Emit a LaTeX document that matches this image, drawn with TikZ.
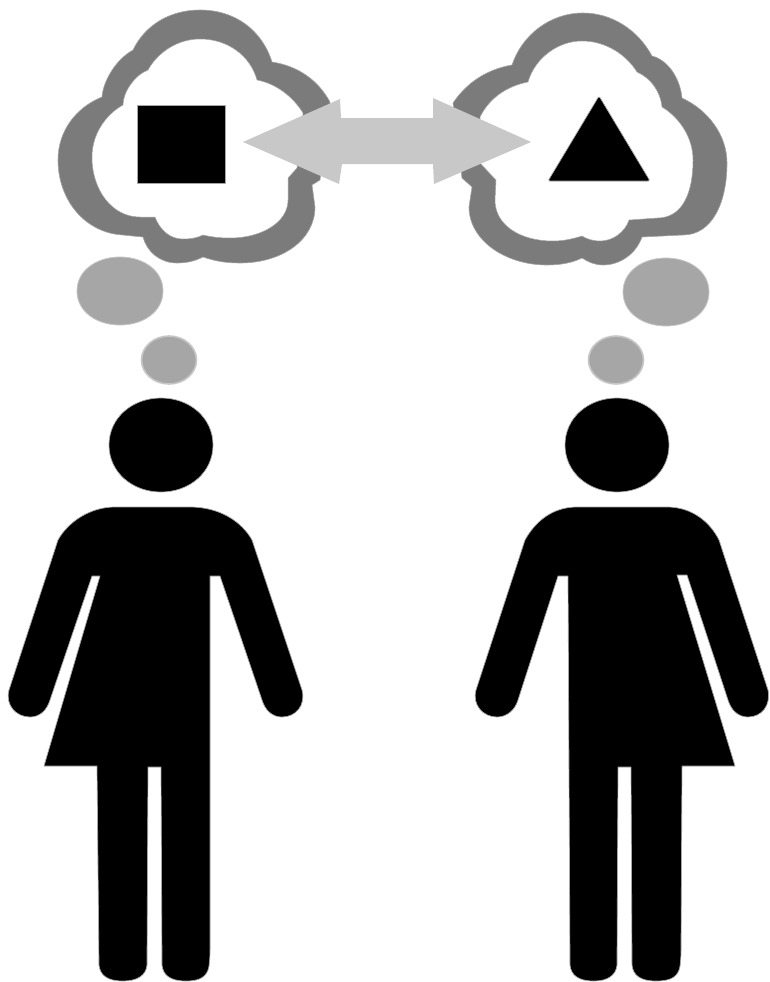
\documentclass[tikz,border=0pt]{standalone}
\tikzset{
  figure/.style={fill=black,draw=black!35,line width=0.7pt,line join=round},
  ring/.style={fill=ringgray,draw=black!35,line width=0.6pt},
  hole/.style={fill=white,draw=black!35,line width=0.5pt},
  bubble/.style={fill=bubblegray,draw=black!22,line width=0.8pt},
  bubblesmall/.style={fill=bubblegray,draw=black!22,line width=1.6pt},
  swap/.style={fill=arrowgray,draw=none},
}
\definecolor{ringgray}{HTML}{7B7B7B}
\definecolor{bubblegray}{HTML}{A6A6A6}
\definecolor{arrowgray}{HTML}{C8C8C8}
\begin{document}
\begin{tikzpicture}[x=1pt,y=-1pt]
\useasboundingbox (0,0) rectangle (769,982);
% left cloud
\path[ring] (133,50) .. controls (145,25) and (170,10) .. (200,10)
 .. controls (235,10) and (262,30) .. (272,62)
 .. controls (298,66) and (318,80) .. (330,102)
 -- (320,180) -- (312,185) -- (315,207)
 .. controls (315,240) and (282,263) .. (240,263)
 .. controls (225,263) and (215,261) .. (203,257)
 .. controls (195,261) and (187,263) .. (177,263)
 .. controls (160,263) and (147,252) .. (143,237)
 -- (123,235)
 .. controls (85,233) and (58,200) .. (58,160)
 .. controls (58,130) and (77,107) .. (102,97)
 .. controls (103,82) and (115,60) .. (133,50) -- cycle;
\path[hole] (148,70) .. controls (158,52) and (178,39) .. (200,39)
 .. controls (227,39) and (250,55) .. (257,80)
 .. controls (277,84) and (293,97) .. (303,113)
 -- (297,168) -- (288,178) -- (288,200)
 .. controls (288,222) and (262,238) .. (230,238)
 .. controls (220,238) and (212,237) .. (203,235)
 .. controls (197,238) and (190,239) .. (183,239)
 .. controls (170,239) and (160,230) .. (155,217)
 -- (140,217)
 .. controls (112,217) and (92,190) .. (92,157)
 .. controls (92,135) and (105,115) .. (123,105)
 .. controls (123,92) and (135,75) .. (148,70) -- cycle;
% right cloud
\path[ring] (512,65) .. controls (522,35) and (550,13) .. (583,13)
 .. controls (612,13) and (638,30) .. (652,56)
 .. controls (668,60) and (680,78) .. (682,98)
 .. controls (708,110) and (727,135) .. (727,163)
 .. controls (727,203) and (712,235) .. (683,235)
 -- (642,237)
 .. controls (636,254) and (620,265) .. (603,265)
 .. controls (595,265) and (588,262) .. (582,258)
 .. controls (572,263) and (560,265) .. (547,265)
 .. controls (505,265) and (469,240) .. (469,207)
 -- (472,187) -- (462,178) -- (453,103)
 .. controls (467,82) and (488,69) .. (512,65) -- cycle;
\path[hole] (528,82) .. controls (535,58) and (558,41) .. (582,41)
 .. controls (604,41) and (625,53) .. (637,72)
 .. controls (650,78) and (660,90) .. (662,107)
 .. controls (680,118) and (693,138) .. (693,160)
 .. controls (693,192) and (683,218) .. (657,218)
 -- (629,220)
 .. controls (625,232) and (613,241) .. (600,241)
 .. controls (593,241) and (587,239) .. (582,236)
 .. controls (572,239) and (563,241) .. (553,241)
 .. controls (520,241) and (495,225) .. (495,200)
 -- (496,180) -- (480,163) -- (480,117)
 .. controls (490,97) and (508,86) .. (528,82) -- cycle;
% contents
\path[figure] (137,105) rectangle (225,183);
\path[figure,rounded corners=1.5pt] (599,96) -- (650,181) -- (548,181) -- cycle;
% double arrow
\path[swap] (243,142) -- (340,99) -- (341,118) -- (433,118) -- (433,98) -- (531,142)
 -- (434,184) -- (433,164) -- (342,164) -- (339,184) -- cycle;
% thought bubbles
\path[bubble] (77,291) .. controls (77,270) and (97,257) .. (120,257)
 .. controls (143,257) and (163,270) .. (163,291)
 .. controls (163,312) and (143,325) .. (120,325)
 .. controls (97,325) and (77,312) .. (77,291) -- cycle;
\path[bubble] (623,292) .. controls (623,271) and (643,258) .. (666,258)
 .. controls (689,258) and (709,271) .. (709,292)
 .. controls (709,313) and (689,326) .. (666,326)
 .. controls (643,326) and (623,313) .. (623,292) -- cycle;
\path[bubblesmall] (169,360) ellipse [x radius=27.5,y radius=24];
\path[bubblesmall] (616,360) ellipse [x radius=27.5,y radius=24];
% heads
\path[figure] (109,445) .. controls (109,418) and (132,398) .. (161,398)
 .. controls (190,398) and (213,418) .. (213,445)
 .. controls (213,472) and (190,492) .. (161,492)
 .. controls (132,492) and (109,472) .. (109,445) -- cycle;
\path[figure] (565,445) .. controls (565,418) and (588,398) .. (617,398)
 .. controls (646,398) and (669,418) .. (669,445)
 .. controls (669,472) and (646,492) .. (617,492)
 .. controls (588,492) and (565,472) .. (565,445) -- cycle;
% left figure
\path[figure] (115,507) -- (190,507) .. controls (220,507) and (242,522) .. (252,540)
 -- (302,690) .. controls (306,705) and (296,717) .. (282,717)
 .. controls (272,717) and (265,710) .. (262,700)
 -- (220,576) -- (210,576) -- (210,950)
 .. controls (210,960) and (209,968) .. (208,970)
 .. controls (205,978) and (198,981) .. (186,981)
 .. controls (170,981) and (163,975) .. (162,965)
 -- (161,767) -- (148,767) -- (147,965)
 .. controls (146,975) and (138,981) .. (123,981)
 .. controls (107,981) and (100,975) .. (99,965)
 -- (97,766) -- (44,766) -- (100,576) -- (92,576) -- (50,700)
 .. controls (47,710) and (40,717) .. (30,717)
 .. controls (16,717) and (5,705) .. (9,690)
 -- (58,540) .. controls (68,522) and (90,507) .. (115,507) -- cycle;
% right figure
\path[figure] (577,507) -- (667,507) .. controls (692,507) and (710,522) .. (719,540)
 -- (768,690) .. controls (771,705) and (762,717) .. (748,717)
 .. controls (738,717) and (731,710) .. (728,700)
 -- (687,575) -- (677,575) -- (735,766) -- (682,766) -- (681,950)
 .. controls (681,960) and (680,968) .. (679,970)
 .. controls (676,978) and (669,981) .. (656,981)
 .. controls (640,981) and (633,975) .. (632,965)
 -- (631,767) -- (618,767) -- (617,965)
 .. controls (616,975) and (608,981) .. (594,981)
 .. controls (578,981) and (571,975) .. (570,965)
 -- (568,576) -- (558,576) -- (518,700)
 .. controls (515,710) and (507,717) .. (497,717)
 .. controls (483,717) and (472,705) .. (476,690)
 -- (525,540) .. controls (535,522) and (552,507) .. (577,507) -- cycle;
\end{tikzpicture}
\end{document}
